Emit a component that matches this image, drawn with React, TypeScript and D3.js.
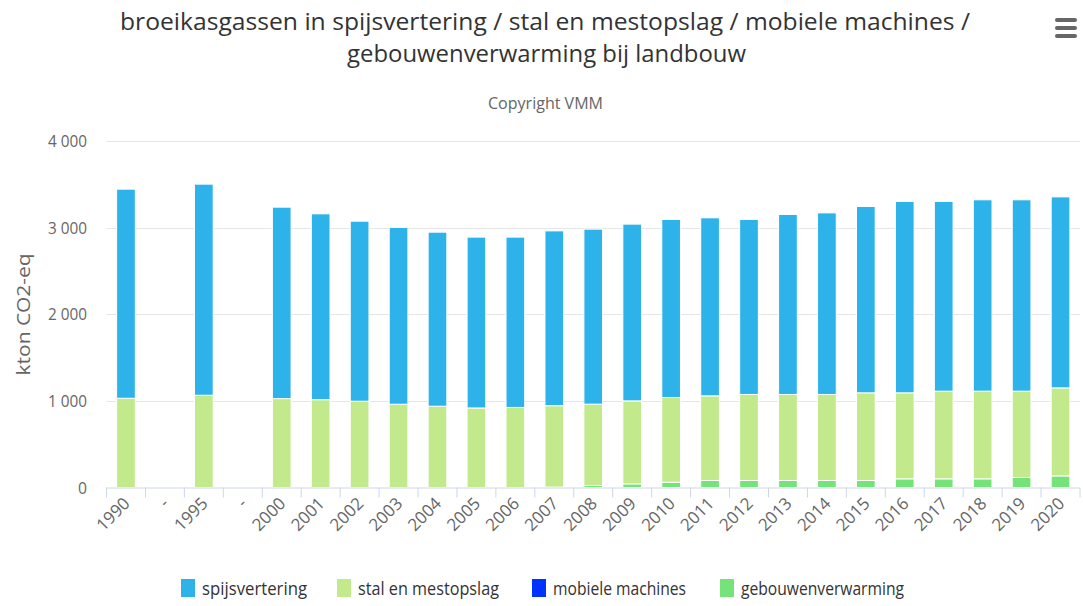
import * as React from "react";
import * as d3 from "d3";

// categories and series (kton CO2-eq)
const categories = ["1990", "-", "1995", "-", "2000", "2001", "2002", "2003", "2004", "2005", "2006", "2007",
  "2008", "2009", "2010", "2011", "2012", "2013", "2014", "2015", "2016", "2017", "2018", "2019", "2020"];

const spijsvertering = [2416, null, 2439, null, 2212, 2147, 2080, 2043, 2011, 1974, 1968, 2020,
  2022, 2042, 2057, 2057, 2022, 2080, 2098, 2153, 2211, 2192, 2211, 2211, 2207];
const stalEnMestopslag = [1031, null, 1066, null, 1027, 1015, 997, 962, 939, 919, 925, 940,
  940, 959, 979, 978, 994, 994, 994, 1013, 994, 1013, 1013, 997, 1017];
const mobieleMachines = [0, null, 0, null, 0, 0, 0, 0, 0, 0, 0, 0,
  0, 0, 0, 0, 0, 0, 0, 0, 0, 0, 0, 0, 0];
const gebouwenverwarming = [0, null, 0, null, 0, 0, 0, 0, 0, 0, 0, 5,
  23, 42, 61, 81, 81, 81, 81, 81, 100, 100, 100, 116, 134];

const yTicks = [0, 1000, 2000, 3000, 4000];

const series = [
  {name: "spijsvertering", color: "#2eb2ea", values: spijsvertering},
  {name: "stal en mestopslag", color: "#c2e98c", values: stalEnMestopslag},
  {name: "mobiele machines", color: "#0033ff", values: mobieleMachines},
  {name: "gebouwenverwarming", color: "#76e27a", values: gebouwenverwarming},
];

// the original uses a condensed face; squeeze a regular one to the same widths
const FONT = "'Open Sans', 'DejaVu Sans', sans-serif";

export default function App() {
  const width = 1083;
  const height = 606;
  const plot = {left: 106.5, right: 1080, top: 141.3, bottom: 487.5};

  const x = d3.scaleBand<string>()
    .domain(categories.map((c, i) => i + ""))
    .range([plot.left, plot.right])
    .paddingInner(0.52)
    .paddingOuter(0.26);
  const y = d3.scaleLinear().domain([0, 4000]).range([plot.bottom, plot.top]);
  const fmt = (v: number) => d3.format(",")(v).replace(/,/g, " ");

  // highcharts stacks the first series on top, so stack in reverse
  const rows = categories.map((c, i) => {
    const r: any = {idx: i + "", empty: spijsvertering[i] == null};
    series.forEach(s => { r[s.name] = s.values[i] ?? 0; });
    return r;
  });
  const stackOrder = series.slice().reverse();
  const stacked = d3.stack<any>().keys(stackOrder.map(s => s.name))(rows);

  const step = x.step();
  const boundaries = d3.range(categories.length + 1).map(i => plot.left + i * step);

  const legendX = [181, 337, 532, 720];
  const legendW = [105, 141, 133, 163];

  return (
    <svg width={width} height={height} style={{position: "absolute", left: 0, top: 0, fontFamily: FONT}}>
      <rect width={width} height={height} fill="#fff"/>

      <text x={120} y={30} fontSize={23.5} fill="#333" textLength={850} lengthAdjust="spacingAndGlyphs">
        broeikasgassen in spijsvertering / stal en mestopslag / mobiele machines /
      </text>
      <text x={347} y={62} fontSize={23.5} fill="#333" textLength={399} lengthAdjust="spacingAndGlyphs">
        gebouwenverwarming bij landbouw
      </text>
      <text x={488} y={109} fontSize={17} fill="#666" textLength={115} lengthAdjust="spacingAndGlyphs">
        Copyright VMM
      </text>

      {/* menu button */}
      <g fill="#666">
        {[18, 26, 34].map(yy => <rect key={yy} x={1055} y={yy} width={22} height={4} rx={2}/>)}
      </g>

      {/* grid */}
      {yTicks.filter(t => t > 0).map(t =>
        <line key={t} x1={plot.left} x2={plot.right} y1={Math.round(y(t)) + 0.5} y2={Math.round(y(t)) + 0.5}
              stroke="#e6e6e6" strokeWidth={1}/>)}

      {yTicks.map(t =>
        <text key={t} x={87} y={y(t) + 6} textAnchor="end" fontSize={17} fill="#666"
              textLength={t ? 39 : 9} lengthAdjust="spacingAndGlyphs">{fmt(t)}</text>)}

      <text transform={`translate(30,${(plot.top + plot.bottom) / 2}) rotate(-90)`} textAnchor="middle"
            fontSize={18} fill="#666" textLength={122} lengthAdjust="spacingAndGlyphs">kton CO2-eq</text>

      {/* bars */}
      {stacked.map((layer, li) => (
        <g key={layer.key} fill={stackOrder[li].color}>
          {layer.map((d, i) => {
            if (rows[i].empty) return null;
            const h = y(d[0]) - y(d[1]);
            if (h < 0.5) return null;
            return <rect key={i} x={x(i + "")} y={y(d[1])} width={x.bandwidth()} height={h}
                         stroke="#fff" strokeWidth={1}/>;
          })}
        </g>
      ))}

      {/* x axis */}
      <line x1={plot.left} x2={plot.right} y1={plot.bottom + 0.5} y2={plot.bottom + 0.5} stroke="#ccd6eb"/>
      {boundaries.map((b, i) =>
        <line key={i} x1={b} x2={b} y1={plot.bottom} y2={plot.bottom + 10} stroke="#ccd6eb"/>)}
      {categories.map((c, i) => {
        const cx = (x(i + "") as number) + x.bandwidth() / 2 + 5;
        return <text key={i} transform={`translate(${cx},${plot.bottom + 17}) rotate(-45)`} textAnchor="end"
                     fontSize={17} fill="#666">{c}</text>;
      })}

      {/* legend */}
      {series.map((s, i) => (
        <g key={s.name} transform={`translate(${legendX[i]},579)`}>
          <rect width={14} height={18} fill={s.color}/>
          <text x={21} y={16} fontSize={18} fill="#333" textLength={legendW[i]}
                lengthAdjust="spacingAndGlyphs">{s.name}</text>
        </g>
      ))}
    </svg>
  );
}
